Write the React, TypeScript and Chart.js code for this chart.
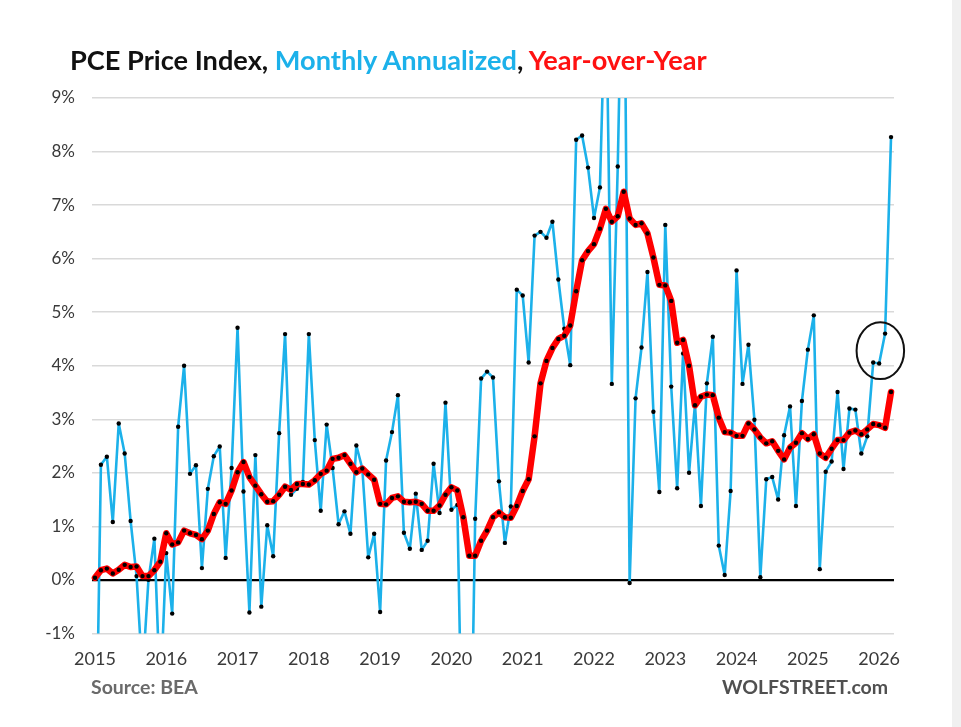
import React, { useEffect, useRef } from "react";
import { Chart, registerables } from "chart.js";

Chart.register(...registerables);

// ---- data (Jan 2015 .. Mar 2026) ----
const START_YEAR = 2015;
const TICK_YEARS = [2015, 2016, 2017, 2018, 2019, 2020, 2021, 2022, 2023, 2024, 2025, 2026];

const MONTHLY_ANNUALIZED = [
  -4.8, 2.15, 2.3, 1.08, 2.92, 2.36, 1.1, 0.07, -1.8, 0.0, 0.77, -2.2, // 2015
  0.5, -0.63, 2.86, 4.0, 1.98, 2.14, 0.22, 1.7, 2.31, 2.49, 0.41, 2.09, // 2016
  4.71, 1.65, -0.61, 2.33, -0.5, 1.02, 0.44, 2.74, 4.59, 1.59, 1.7, 1.83, // 2017
  4.59, 2.61, 1.29, 2.9, 2.09, 1.04, 1.28, 0.86, 2.51, 2.08, 0.42, 0.86, // 2018
  -0.6, 2.23, 2.76, 3.45, 0.88, 0.58, 1.61, 0.56, 0.73, 2.17, 1.25, 3.31, // 2019
  1.31, 1.4, -4.5, -5.5, 1.14, 3.76, 3.89, 3.78, 1.84, 0.69, 1.37, 5.42, // 2020
  5.31, 4.06, 6.43, 6.5, 6.39, 6.69, 5.61, 4.69, 4.01, 8.22, 8.3, 7.7, // 2021
  6.76, 7.33, 11.4, 3.66, 7.72, 13.3, -0.06, 3.39, 4.34, 5.75, 3.14, 1.64, // 2022
  6.63, 3.61, 1.71, 4.23, 2.0, 3.28, 1.38, 3.67, 4.54, 0.64, 0.09, 1.66, // 2023
  5.78, 3.66, 4.39, 2.99, 0.05, 1.88, 1.92, 1.5, 2.7, 3.24, 1.38, 3.34, // 2024
  4.3, 4.94, 0.2, 2.02, 2.21, 3.51, 2.07, 3.2, 3.18, 2.36, 2.68, 4.06, // 2025
  4.04, 4.6, 8.27, // 2026
];

const YEAR_OVER_YEAR = [
  0.04, 0.18, 0.21, 0.12, 0.19, 0.28, 0.24, 0.25, 0.07, 0.07, 0.18, 0.34, // 2015
  0.87, 0.66, 0.7, 0.92, 0.87, 0.84, 0.76, 0.92, 1.23, 1.45, 1.42, 1.67, // 2016
  2.01, 2.2, 1.92, 1.76, 1.6, 1.46, 1.47, 1.59, 1.74, 1.68, 1.79, 1.79, // 2017
  1.78, 1.86, 1.98, 2.04, 2.26, 2.28, 2.33, 2.17, 2.01, 2.08, 1.97, 1.87, // 2018
  1.42, 1.41, 1.53, 1.56, 1.46, 1.45, 1.46, 1.42, 1.29, 1.29, 1.39, 1.59, // 2019
  1.73, 1.67, 1.17, 0.45, 0.45, 0.73, 0.92, 1.17, 1.26, 1.17, 1.16, 1.38, // 2020
  1.66, 1.88, 2.68, 3.67, 4.09, 4.33, 4.5, 4.56, 4.75, 5.39, 5.97, 6.14, // 2021
  6.27, 6.56, 6.93, 6.69, 6.79, 7.25, 6.75, 6.63, 6.66, 6.47, 6.02, 5.51, // 2022
  5.5, 5.21, 4.43, 4.48, 4.0, 3.26, 3.42, 3.46, 3.45, 3.03, 2.76, 2.75, // 2023
  2.69, 2.69, 2.92, 2.81, 2.66, 2.55, 2.59, 2.41, 2.25, 2.47, 2.56, 2.74, // 2024
  2.63, 2.72, 2.36, 2.28, 2.45, 2.61, 2.61, 2.75, 2.79, 2.72, 2.81, 2.91, // 2025
  2.89, 2.84, 3.51, // 2026
];

const Y_TICKS = [-1, 0, 1, 2, 3, 4, 5, 6, 7, 8, 9];

// circled annotation (month index from Jan 2015, value in %)
const CIRCLE_INDEX = 132.2;
const CIRCLE_VALUE = 4.28;
const CIRCLE_HALF_MONTHS = 4.0;
const CIRCLE_HALF_PCT = 0.53;

const MONTH_LABELS = MONTHLY_ANNUALIZED.map((_, i) => {
  const y = START_YEAR + Math.floor(i / 12);
  const m = (i % 12) + 1;
  return `${y}-${m < 10 ? "0" + m : m}`;
});

const BLUE = "#1cb1ea";
const RED = "#ff0000";
const FONT = "Lato, 'Open Sans', sans-serif";

const ellipsePlugin = {
  id: "circleNote",
  afterDatasetsDraw(chart: any) {
    const { ctx, scales } = chart;
    const x = scales.x;
    const y = scales.y;
    const cx = x.getPixelForValue(CIRCLE_INDEX);
    const cy = y.getPixelForValue(CIRCLE_VALUE);
    const rx = Math.abs(x.getPixelForValue(CIRCLE_INDEX + CIRCLE_HALF_MONTHS) - cx);
    const ry = Math.abs(y.getPixelForValue(CIRCLE_VALUE + CIRCLE_HALF_PCT) - cy);
    ctx.save();
    ctx.beginPath();
    ctx.ellipse(cx, cy, rx, ry, 0, 0, Math.PI * 2);
    ctx.lineWidth = 2;
    ctx.strokeStyle = "#111";
    ctx.stroke();
    ctx.restore();
  },
};

export default function App() {
  const canvasRef = useRef<HTMLCanvasElement | null>(null);

  useEffect(() => {
    if (!canvasRef.current) return;
    const chart = new Chart(canvasRef.current, {
      type: "line",
      data: {
        labels: MONTH_LABELS,
        datasets: [
          {
            label: "Year-over-Year",
            data: YEAR_OVER_YEAR,
            borderColor: RED,
            borderWidth: 6.5,
            borderJoinStyle: "round",
            borderCapStyle: "round",
            pointRadius: 2.2,
            pointBackgroundColor: "#000",
            pointBorderWidth: 0,
            tension: 0,
            order: 0,
          },
          {
            label: "Monthly Annualized",
            data: MONTHLY_ANNUALIZED,
            borderColor: BLUE,
            borderWidth: 2.6,
            borderJoinStyle: "round",
            pointRadius: 2.2,
            pointBackgroundColor: "#000",
            pointBorderWidth: 0,
            tension: 0,
            order: 1,
          },
        ],
      },
      options: {
        animation: false,
        responsive: true,
        maintainAspectRatio: false,
        layout: { padding: { top: 98, right: 67, bottom: 42, left: 0 } },
        plugins: {
          legend: { display: false },
          title: { display: false },
          tooltip: { enabled: false },
        },
        scales: {
          x: {
            type: "category",
            offset: true,
            grid: { display: false, drawTicks: false },
            border: { display: false },
            ticks: {
              autoSkip: false,
              maxRotation: 0,
              minRotation: 0,
              padding: 15,
              color: "#3a3a3a",
              font: { family: FONT, size: 18 },
              callback: function (_v: any, i: number) {
                const lbl = MONTH_LABELS[i];
                const yr = Number(lbl.slice(0, 4));
                return lbl.endsWith("-01") && TICK_YEARS.includes(yr) ? String(yr) : "";
              },
            },
          },
          y: {
            min: Y_TICKS[0],
            max: Y_TICKS[Y_TICKS.length - 1],
            afterFit: (scale: any) => {
              scale.width = 92;
            },
            afterBuildTicks: (scale: any) => {
              scale.ticks = Y_TICKS.map((v) => ({ value: v }));
            },
            border: { display: false },
            grid: {
              drawTicks: false,
              color: (c: any) => (c.tick && c.tick.value === 0 ? "#000" : "#d9d9d9"),
              lineWidth: (c: any) => (c.tick && c.tick.value === 0 ? 2.2 : 1.4),
            },
            ticks: {
              padding: 17,
              color: "#3a3a3a",
              font: { family: FONT, size: 17 },
              callback: (v: any) => `${v}%`,
            },
          },
        },
      },
      plugins: [ellipsePlugin],
    } as any);
    return () => chart.destroy();
  }, []);

  return (
    <div
      style={{
        position: "absolute",
        left: 0,
        top: 0,
        width: 961,
        height: 727,
        background: "#fff",
        overflow: "hidden",
        fontFamily: FONT,
      }}
    >
      <div style={{ position: "absolute", left: 0, top: 0, width: 961, height: 727 }}>
        <canvas ref={canvasRef} />
      </div>
      <div
        style={{
          position: "absolute",
          left: 70,
          top: 45.5,
          fontSize: 27.2,
          lineHeight: 1,
          fontWeight: 700,
          color: "#111",
          whiteSpace: "nowrap",
        }}
      >
        PCE Price Index, <span style={{ color: "#1cb1ea" }}>Monthly Annualized</span>,{" "}
        <span style={{ color: "#ff1111" }}>Year-over-Year</span>
      </div>
      <div
        style={{
          position: "absolute",
          left: 91,
          top: 676.7,
          fontSize: 19.5,
          lineHeight: 1,
          fontWeight: 700,
          color: "#6a6a6a",
          whiteSpace: "nowrap",
        }}
      >
        Source: BEA
      </div>
      <div
        style={{
          position: "absolute",
          left: 722,
          top: 676.7,
          fontSize: 19.5,
          lineHeight: 1,
          fontWeight: 700,
          color: "#505050",
          whiteSpace: "nowrap",
        }}
      >
        WOLFSTREET.com
      </div>
      <div
        style={{
          position: "absolute",
          left: 952,
          top: 0,
          width: 9,
          height: 727,
          background: "#f0f0f0",
        }}
      />
    </div>
  );
}
